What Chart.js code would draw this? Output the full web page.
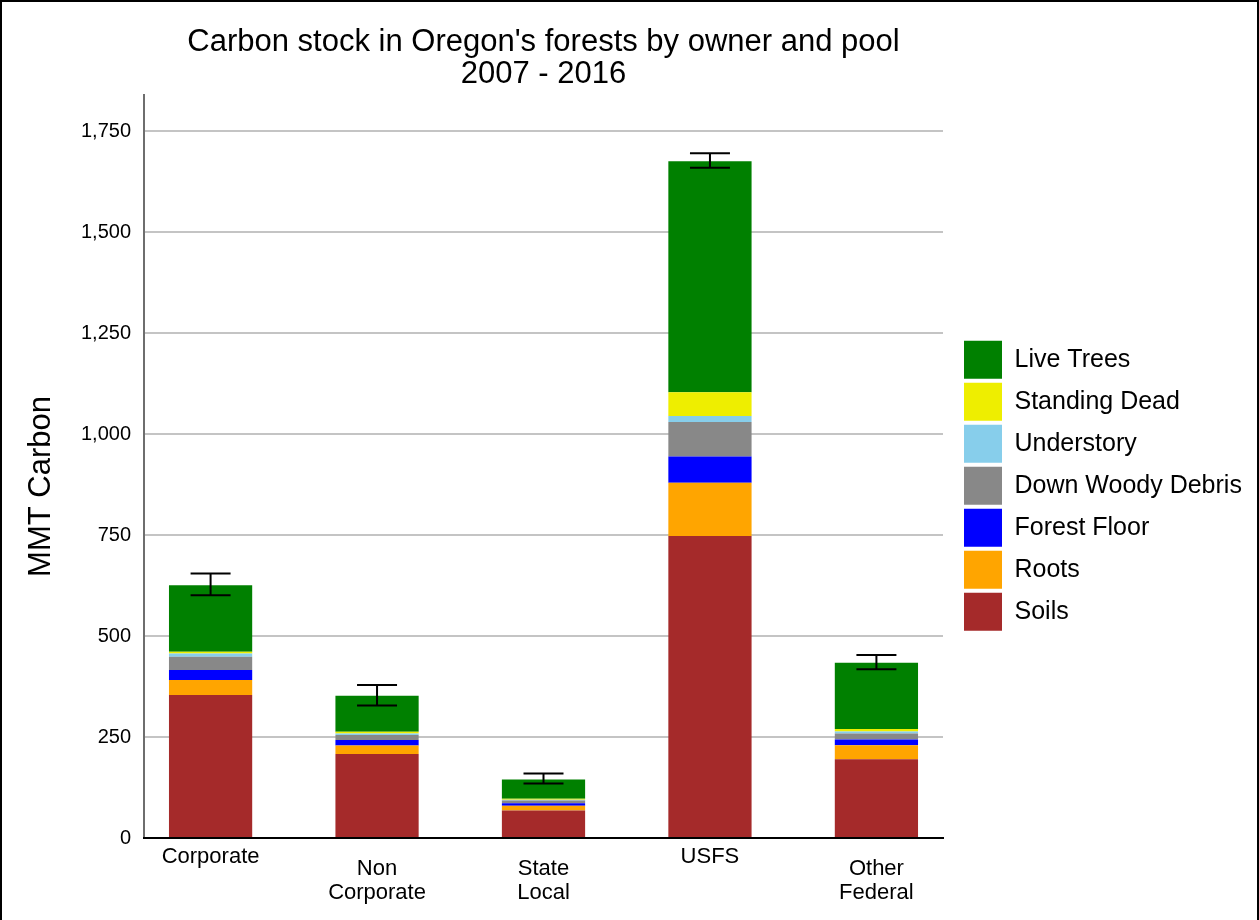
<!DOCTYPE html>
<html>
<head>
<meta charset="utf-8">
<title>Carbon stock in Oregon's forests by owner and pool</title>
<script src="https://cdn.jsdelivr.net/npm/chart.js@4/dist/chart.umd.min.js"></script>
<style>
  html, body { margin: 0; padding: 0; background: #ffffff; }
  #wrap { position: relative; width: 1259px; height: 920px; }
  #frame { position: absolute; left: 0; top: 0; width: 1259px; height: 920px; box-sizing: border-box;
           border: 2px solid #000; border-bottom: none; pointer-events: none; }
</style>
</head>
<body>
<div id="wrap">
  <canvas id="c" width="1259" height="920"></canvas>
  <div id="frame"></div>
</div>
<script>
// ---- data ----
const categories = ['Corporate', 'Non Corporate', 'State Local', 'USFS', 'Other Federal'];
const xTickLabels = [['Corporate', '', ''], ['Non', 'Corporate'], ['State', 'Local'], ['USFS', '', ''], ['Other', 'Federal']];
const soils           = [354, 208, 68, 748, 195];
const roots           = [37, 21, 12, 132, 35];
const forestFloor     = [25, 14, 6, 65, 14];
const downWoodyDebris = [33, 12, 7, 85, 15];
const understory      = [8, 4, 2, 15, 5];
const standingDead    = [4, 4, 2, 59, 6];
const liveTrees       = [165, 89, 48, 572, 164];
const errLow          = [601, 328, 135, 1660, 418];
const errHigh         = [655, 379, 160, 1696, 453];
const yTicks      = [0, 250, 500, 750, 1000, 1250, 1500, 1750];
const yTickLabels = ['0', '250', '500', '750', '1,000', '1,250', '1,500', '1,750'];
const chartTitle = ["Carbon stock in Oregon's forests by owner and pool", '2007 - 2016'];
const yAxisTitle = 'MMT Carbon';

const FONT = "'Liberation Sans', Arial, sans-serif";

function series(values) {
  return values.map((v, i) => ({ x: i, y: v }));
}

const datasets = [
  { label: 'Soils', data: series(soils), backgroundColor: '#A52A2A' },
  { label: 'Roots', data: series(roots), backgroundColor: '#FFA500' },
  { label: 'Forest Floor', data: series(forestFloor), backgroundColor: '#0000FF' },
  { label: 'Down Woody Debris', data: series(downWoodyDebris), backgroundColor: '#888888' },
  { label: 'Understory', data: series(understory), backgroundColor: '#87CEEB' },
  { label: 'Standing Dead', data: series(standingDead), backgroundColor: '#EEEE00' },
  { label: 'Live Trees', data: series(liveTrees), backgroundColor: '#008000' }
].map(d => Object.assign(d, { borderWidth: 0, categoryPercentage: 0.5, barPercentage: 1.0 }));

// error bars drawn through the chart scales
const errorBars = {
  id: 'errorBars',
  afterDatasetsDraw(chart) {
    const { ctx, scales: { x, y } } = chart;
    ctx.save();
    ctx.strokeStyle = '#000';
    ctx.lineWidth = 2;
    errLow.forEach((lo, i) => {
      const px = x.getPixelForValue(i);
      const yl = y.getPixelForValue(lo);
      const yh = y.getPixelForValue(errHigh[i]);
      ctx.beginPath();
      ctx.moveTo(px, yl); ctx.lineTo(px, yh);
      ctx.moveTo(px - 20, yl); ctx.lineTo(px + 20, yl);
      ctx.moveTo(px - 20, yh); ctx.lineTo(px + 20, yh);
      ctx.stroke();
    });
    ctx.restore();
  }
};

// y axis title placed like the reference
const yTitlePlugin = {
  id: 'yTitle',
  afterDraw(chart) {
    const { ctx, chartArea } = chart;
    ctx.save();
    ctx.translate(41, (chartArea.top + chartArea.bottom) / 2 + 20);
    ctx.rotate(-Math.PI / 2);
    ctx.font = '31px ' + FONT;
    ctx.fillStyle = '#000';
    ctx.textAlign = 'center';
    ctx.textBaseline = 'middle';
    ctx.fillText(yAxisTitle, 0, 0);
    ctx.restore();
  }
};

// fixed legend width so the plot area ends where the reference does
const legendWidthFix = {
  id: 'legendWidthFix',
  afterInit(chart) {
    const lg = chart.legend;
    if (!lg) return;
    const origFit = lg.fit.bind(lg);
    lg.fit = function () { origFit(); this.width = 299; };
  }
};

new Chart(document.getElementById('c'), {
  type: 'bar',
  data: { datasets },
  plugins: [legendWidthFix, errorBars, yTitlePlugin],
  options: {
    responsive: false,
    devicePixelRatio: 1,
    animation: false,
    layout: { padding: { left: 0, right: 0, top: 0, bottom: 3 } },
    scales: {
      x: {
        type: 'linear',
        stacked: true,
        offset: false,
        min: -0.4,
        max: 4.4,
        afterBuildTicks: s => { s.ticks = categories.map((c, i) => ({ value: i })); },
        afterFit: s => { s.height = 79; },
        grid: { display: false, drawTicks: false, offset: false },
        border: { display: true, color: '#000', width: 2, z: 1 },
        ticks: {
          padding: 19,
          color: '#000',
          maxRotation: 0,
          autoSkip: false,
          crossAlign: 'center',
          font: { family: FONT, size: 22, lineHeight: 24 / 22 },
          callback: v => xTickLabels[v]
        }
      },
      y: {
        stacked: true,
        min: 0,
        max: 1840,
        afterBuildTicks: s => { s.ticks = yTicks.map(v => ({ value: v })); },
        afterFit: s => { s.width = 144; },
        grid: { color: '#C4C4C4', lineWidth: 2, drawTicks: false },
        border: { display: true, color: '#6E6E6E', width: 2 },
        ticks: {
          padding: 13,
          color: '#000',
          font: { family: FONT, size: 20 },
          callback: v => yTickLabels[yTicks.indexOf(v)]
        },
        title: { display: false }
      },
      yGap: {
        type: 'linear',
        position: 'right',
        display: true,
        afterFit: s => { s.width = 17; },
        grid: { display: false, drawTicks: false },
        border: { display: false },
        ticks: { display: false }
      }
    },
    plugins: {
      title: {
        display: true,
        text: chartTitle,
        fullSize: false,
        color: '#000',
        font: { family: FONT, size: 31, weight: 'normal', lineHeight: 32 / 31 },
        padding: { top: 26, bottom: 5 }
      },
      legend: {
        display: true,
        position: 'right',
        align: 'center',
        reverse: true,
        title: { display: true, text: '', font: { size: 1, lineHeight: 1 }, padding: { top: 53.4, bottom: 0 } },
        labels: {
          boxWidth: 38,
          boxHeight: 38,
          padding: 4,
          color: '#000',
          font: { family: FONT, size: 25 }
        }
      },
      tooltip: { enabled: false }
    }
  }
});
</script>
</body>
</html>
